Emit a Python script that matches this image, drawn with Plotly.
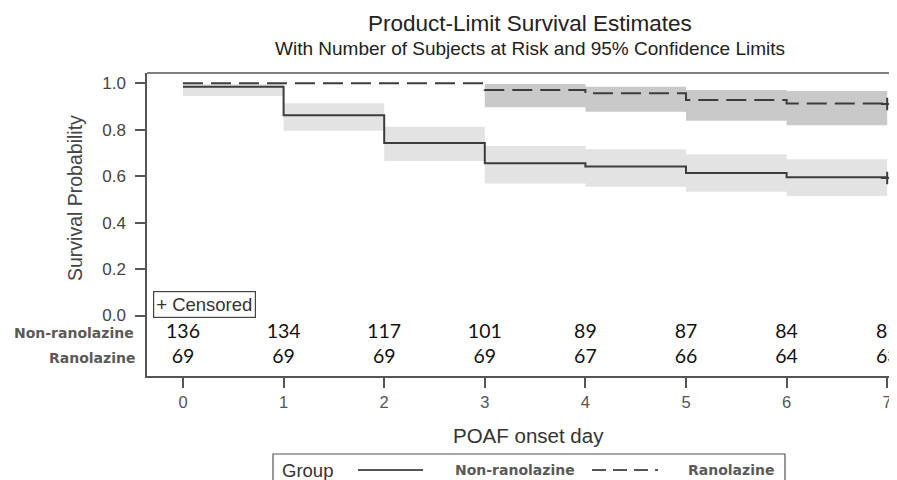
import plotly.graph_objects as go

# ---------------- data ----------------
days = [0, 1, 2, 3, 4, 5, 6, 7]
tick_days = [0, 1, 2, 3, 4, 5, 6, 7]

non_ran_surv = [0.985, 0.862, 0.743, 0.656, 0.642, 0.614, 0.595, 0.595]
non_ran_lower = [0.945, 0.796, 0.665, 0.569, 0.555, 0.533, 0.515, 0.515]
non_ran_upper = [0.997, 0.914, 0.813, 0.730, 0.716, 0.694, 0.673, 0.673]

ran_surv = [1.0, 1.0, 1.0, 0.971, 0.957, 0.928, 0.913, 0.913]
ran_lower = [1.0, 1.0, 1.0, 0.897, 0.878, 0.839, 0.819, 0.819]
ran_upper = [1.0, 1.0, 1.0, 0.997, 0.985, 0.971, 0.967, 0.967]

censor_day = [7]
non_ran_censor = [0.592]
ran_censor = [0.911]

risk_days = [0, 1, 2, 3, 4, 5, 6, 7]
non_ran_risk = [136, 134, 117, 101, 89, 87, 84, 81]
ran_risk = [69, 69, 69, 69, 67, 66, 64, 63]

y_ticks = [0.0, 0.2, 0.4, 0.6, 0.8, 1.0]
y_tick_text = ["0.0", "0.2", "0.4", "0.6", "0.8", "1.0"]

group_names = ["Non-ranolazine", "Ranolazine"]

# ---------------- layout geometry ----------------
# The page body adds an 8px offset; geometry below is given in window pixels.
OFF = 8
W, H = 897, 480
PLOT_LEFT, PLOT_TOP, PLOT_BOTTOM, PLOT_RIGHT = 147, 73, 376, W + OFF
L = PLOT_LEFT - OFF
T = PLOT_TOP - OFF
B = H - (PLOT_BOTTOM - OFF)
R = 0
PW = W - L - R
PH = H - T - B


def px(x):
    return (x - OFF - L) / PW


def py(y):
    return (H - B - (y - OFF)) / PH


# axis ranges from window pixel geometry: day 0 at x=183, 100.6 px/day; y 1.0 at 83.3, 0.0 at 315.5
X0_PIX, X_PER_DAY = 183.0, 100.6
Y0_PIX, Y_PER_UNIT = 315.5, 232.2
x_range = [(PLOT_LEFT - X0_PIX) / X_PER_DAY, (PLOT_RIGHT - X0_PIX) / X_PER_DAY]
y_range = [(Y0_PIX - PLOT_BOTTOM) / Y_PER_UNIT, (Y0_PIX - PLOT_TOP) / Y_PER_UNIT]

LINE = "#3c3c3c"
LIGHT_BAND = "#e3e3e3"
DARK_BAND = "#c9c9c9"
FRAME = "#555555"
ROW_NON = (Y0_PIX - 333) / Y_PER_UNIT
ROW_RAN = (Y0_PIX - 358) / Y_PER_UNIT

fig = go.Figure()

# confidence bands
fig.add_trace(go.Scatter(x=days, y=non_ran_lower, mode="lines", line=dict(width=0, shape="hv"),
                         hoverinfo="skip", showlegend=False))
fig.add_trace(go.Scatter(x=days, y=non_ran_upper, mode="lines", line=dict(width=0, shape="hv"),
                         fill="tonexty", fillcolor=LIGHT_BAND, hoverinfo="skip", showlegend=False))
fig.add_trace(go.Scatter(x=days, y=ran_lower, mode="lines", line=dict(width=0, shape="hv"),
                         hoverinfo="skip", showlegend=False))
fig.add_trace(go.Scatter(x=days, y=ran_upper, mode="lines", line=dict(width=0, shape="hv"),
                         fill="tonexty", fillcolor=DARK_BAND, hoverinfo="skip", showlegend=False))

# survival curves
fig.add_trace(go.Scatter(x=days, y=non_ran_surv, mode="lines", name=group_names[0],
                         line=dict(color=LINE, width=2, shape="hv"), showlegend=False))
fig.add_trace(go.Scatter(x=days, y=ran_surv, mode="lines", name=group_names[1],
                         line=dict(color=LINE, width=2, shape="hv", dash="20px,8px"), showlegend=False))

# censor marks
fig.add_trace(go.Scatter(x=censor_day, y=non_ran_censor, mode="markers", cliponaxis=False,
                         marker=dict(symbol="cross-thin", size=9, line=dict(color=LINE, width=2)),
                         showlegend=False))
fig.add_trace(go.Scatter(x=censor_day, y=ran_censor, mode="markers", cliponaxis=False,
                         marker=dict(symbol="cross-thin", size=9, line=dict(color=LINE, width=2)),
                         showlegend=False))

# at-risk numbers
fig.add_trace(go.Scatter(x=risk_days, y=[ROW_NON] * len(risk_days), mode="text",
                         text=[str(v) for v in non_ran_risk], cliponaxis=False,
                         textfont=dict(family="Lato", size=19.5, color="#111111"), showlegend=False))
fig.add_trace(go.Scatter(x=risk_days, y=[ROW_RAN] * len(risk_days), mode="text",
                         text=[str(v) for v in ran_risk], cliponaxis=False,
                         textfont=dict(family="Lato", size=19.5, color="#111111"), showlegend=False))

ARIAL = "Liberation Sans, Arial"
ROWFONT = dict(family="DejaVu Sans", size=14, color="#5a5a5a", weight="bold")

annotations = []
# titles
annotations.append(dict(text="Product-Limit Survival Estimates", xref="paper", yref="paper",
                        x=px(530), y=py(23), xanchor="center", yanchor="middle", showarrow=False,
                        font=dict(family=ARIAL, size=22.5, color="#222222")))
annotations.append(dict(text="With Number of Subjects at Risk and 95% Confidence Limits",
                        xref="paper", yref="paper", x=px(530), y=py(48), xanchor="center",
                        yanchor="middle", showarrow=False,
                        font=dict(family=ARIAL, size=19, color="#222222")))
# axis titles
annotations.append(dict(text="Survival Probability", xref="paper", yref="paper", x=px(75), y=py(198),
                        xanchor="center", yanchor="middle", textangle=-90, showarrow=False,
                        font=dict(family=ARIAL, size=19.5, color="#444444")))
annotations.append(dict(text="POAF onset day", xref="paper", yref="paper", x=px(528), y=py(435),
                        xanchor="center", yanchor="middle", showarrow=False,
                        font=dict(family=ARIAL, size=20.5, color="#333333")))
# at-risk row labels
annotations.append(dict(text=group_names[0], xref="paper", yref="y", x=px(136), y=ROW_NON,
                        xanchor="right", yanchor="middle", showarrow=False, font=ROWFONT))
annotations.append(dict(text=group_names[1], xref="paper", yref="y", x=px(137), y=ROW_RAN,
                        xanchor="right", yanchor="middle", showarrow=False, font=ROWFONT))
# censored inset
annotations.append(dict(text="+ Censored", xref="paper", yref="paper", x=px(153), y=py(304),
                        xanchor="left", yanchor="middle", showarrow=False, bordercolor="#444444",
                        borderwidth=1.2, borderpad=2,
                        font=dict(family=ARIAL, size=18.5, color="#333333")))
# legend texts
annotations.append(dict(text="Group", xref="paper", yref="paper", x=px(280), y=py(470),
                        xanchor="left", yanchor="middle", showarrow=False,
                        font=dict(family=ARIAL, size=18.5, color="#333333")))
annotations.append(dict(text=group_names[0], xref="paper", yref="paper", x=px(453), y=py(470),
                        xanchor="left", yanchor="middle", showarrow=False, font=ROWFONT))
annotations.append(dict(text=group_names[1], xref="paper", yref="paper", x=px(686), y=py(470),
                        xanchor="left", yanchor="middle", showarrow=False, font=ROWFONT))

shapes = [
    # top frame line
    dict(type="line", xref="paper", yref="paper", x0=0, x1=1, y0=1, y1=1,
         line=dict(color=FRAME, width=1.5)),
    # legend box
    dict(type="rect", xref="paper", yref="paper", x0=px(273), x1=px(785), y0=py(454), y1=py(500),
         line=dict(color=FRAME, width=1.2)),
    # legend samples
    dict(type="line", xref="paper", yref="paper", x0=px(358), x1=px(423), y0=py(470), y1=py(470),
         line=dict(color="#555555", width=2)),
    dict(type="line", xref="paper", yref="paper", x0=px(592), x1=px(658), y0=py(470), y1=py(470),
         line=dict(color="#555555", width=2, dash="14px,7px")),
]

fig.update_layout(
    width=W, height=H,
    margin=dict(l=L, r=R, t=T, b=B, pad=0),
    paper_bgcolor="white", plot_bgcolor="white",
    showlegend=False,
    annotations=annotations,
    shapes=shapes,
    xaxis=dict(range=x_range, tickvals=tick_days, ticktext=[str(d) for d in tick_days],
               showgrid=False, zeroline=False, showline=True, linecolor=FRAME, linewidth=1.5,
               ticks="outside", ticklen=10, tickwidth=1.5, tickcolor=FRAME,
               tickfont=dict(family=ARIAL, size=16.5, color="#555555")),
    yaxis=dict(range=y_range, tickvals=y_ticks, ticktext=y_tick_text,
               showgrid=False, zeroline=False, showline=True, linecolor=FRAME, linewidth=1.5,
               ticks="outside", ticklen=10, tickwidth=1.5, tickcolor=FRAME, ticklabelstandoff=6,
               tickfont=dict(family=ARIAL, size=17, color="#444444")),
)

fig.write_html("out.html")
